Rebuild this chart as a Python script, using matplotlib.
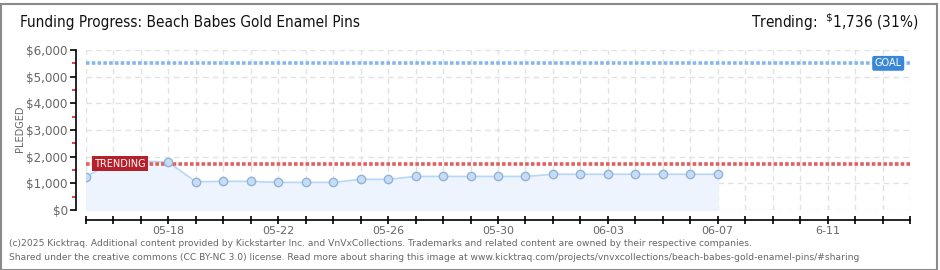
import matplotlib
matplotlib.use("Agg")
import matplotlib.pyplot as plt
import matplotlib.dates as mdates
import matplotlib.ticker as mticker
import pandas as pd
from matplotlib.patches import Rectangle

# ---- data ----
dates = ["2025-05-15", "2025-05-16", "2025-05-17", "2025-05-18", "2025-05-19", "2025-05-20",
         "2025-05-21", "2025-05-22", "2025-05-23", "2025-05-24", "2025-05-25", "2025-05-26",
         "2025-05-27", "2025-05-28", "2025-05-29", "2025-05-30", "2025-05-31", "2025-06-01",
         "2025-06-02", "2025-06-03", "2025-06-04", "2025-06-05", "2025-06-06", "2025-06-07"]
pledged = [1250, 1800, 1840, 1790, 1060, 1075, 1075, 1035, 1035, 1035, 1150, 1150,
           1260, 1260, 1260, 1260, 1260, 1340, 1340, 1340, 1340, 1340, 1340, 1340]
goal = 5500
trending = 1736
x_start, x_end = "2025-05-15", "2025-06-14"
label_dates = ["2025-05-18", "2025-05-22", "2025-05-26", "2025-05-30", "2025-06-03", "2025-06-07", "2025-06-11"]
label_texts = ["05-18", "05-22", "05-26", "05-30", "06-03", "06-07", "6-11"]
y_ticks = [0, 1000, 2000, 3000, 4000, 5000, 6000]
y_labels = ["$0", "$1,000", "$2,000", "$3,000", "$4,000", "$5,000", "$6,000"]

title = "Funding Progress: Beach Babes Gold Enamel Pins"
footer1 = "(c)2025 Kicktraq. Additional content provided by Kickstarter Inc. and VnVxCollections. Trademarks and related content are owned by their respective companies."
footer2 = "Shared under the creative commons (CC BY-NC 3.0) license. Read more about sharing this image at www.kicktraq.com/projects/vnvxcollections/beach-babes-gold-enamel-pins/#sharing"

plt.rcParams['font.family'] = ['DejaVu Sans']

W, H = 940, 270
fig = plt.figure(figsize=(W / 100, H / 100), dpi=100)
fig.patch.set_facecolor("white")

# frame
fig.add_artist(Rectangle((0.5 / W, 0.5 / H), 1 - 4 / W, 1 - 4 / H, transform=fig.transFigure,
                         fill=False, edgecolor="#8a8a8a", linewidth=1.5))

ax = fig.add_axes([86 / W, 1 - 210 / H, 824 / W, 160 / H])
ax.set_facecolor("none")

x = pd.to_datetime(dates)
xs = mdates.date2num(x)
x0 = mdates.date2num(pd.Timestamp(x_start))
x1 = mdates.date2num(pd.Timestamp(x_end))

ax.set_xlim(x0, x1)
ax.set_ylim(0, 6000)

# grid
for d in range(int(x0), int(x1) + 1):
    ax.axvline(d, color="#e2e2e2", linestyle=(0, (4, 3)), linewidth=1, zorder=0)
for yv in y_ticks:
    ax.axhline(yv, color="#e2e2e2", linestyle=(0, (4, 3)), linewidth=1, zorder=0)

# data
ax.fill_between(xs, pledged, 0, color="#edf4fd", zorder=1)
ax.plot(xs, pledged, color="#b8d6f5", linewidth=1.2, zorder=2)
ax.plot(xs, pledged, linestyle="none", marker="o", markersize=6,
        markerfacecolor="#c6ddf7", markeredgecolor="#93b3d6", markeredgewidth=1, zorder=5)

# goal & trending lines
ax.axhline(goal, color="#86b8ec", linestyle=(0, (1, 0.6)), linewidth=2.6, zorder=3)
ax.axhline(trending, color="#e06060", linestyle=(0, (1, 0.6)), linewidth=2.6, zorder=3)

ax.text(x0 + 0.3, trending, "TRENDING", color="white", fontsize=7, ha="left", va="center",
        zorder=6, bbox=dict(boxstyle="square,pad=0.25", facecolor="#b5202a", edgecolor="none"))
ax.text(x0 + 29.7, goal, "GOAL", color="white", fontsize=7, ha="right", va="center",
        zorder=6, bbox=dict(boxstyle="round,pad=0.25,rounding_size=0.2", facecolor="#3a87d6", edgecolor="none"))

# axes styling
for s in ["top", "right"]:
    ax.spines[s].set_visible(False)
ax.spines["left"].set_position(("outward", 7.2))
ax.spines["bottom"].set_position(("outward", 7.2))
ax.spines["left"].set_color("black")
ax.spines["bottom"].set_color("black")
ax.spines["left"].set_linewidth(1.2)
ax.spines["bottom"].set_linewidth(1.2)

ax.set_yticks(y_ticks)
ax.set_yticklabels(y_labels)
ax.yaxis.set_minor_locator(mticker.MultipleLocator(500))
ax.tick_params(axis="y", which="major", direction="out", length=4, width=1.2, color="black",
               labelsize=8.6, labelcolor="#666666", pad=2)
ax.tick_params(axis="y", which="minor", direction="out", length=3, width=1.2, color="#e02020")

ax.set_xticks([x0 + i for i in range(int(x1 - x0) + 1)], minor=True)
ax.set_xticks(mdates.date2num(pd.to_datetime(label_dates)))
ax.set_xticklabels(label_texts)
ax.tick_params(axis="x", which="both", direction="inout", length=6, width=1.2, color="black")
ax.tick_params(axis="x", which="major", labelsize=8, labelcolor="#666666", pad=1)

ax.set_ylabel("PLEDGED", fontsize=7, color="#666666")
ax.yaxis.set_label_coords((25 - 86) / 824, 0.506)

# header
fig.text(20 / W, 1 - 22 / H, title, fontsize=11, color="#111111", ha="left", va="center",
         fontstretch="condensed")
fig.text(918 / W, 1 - 22 / H, r"Trending:  $^{\$}$1,736 (31%)", fontsize=11, color="#111111",
         ha="right", va="center", fontstretch="condensed")

# footer
fig.text(9 / W, 1 - 243 / H, footer1, fontsize=6.6, color="#666666", ha="left", va="center")
fig.text(9 / W, 1 - 257 / H, footer2, fontsize=6.6, color="#666666", ha="left", va="center")

fig.savefig("out.png", dpi=100, facecolor="white")
